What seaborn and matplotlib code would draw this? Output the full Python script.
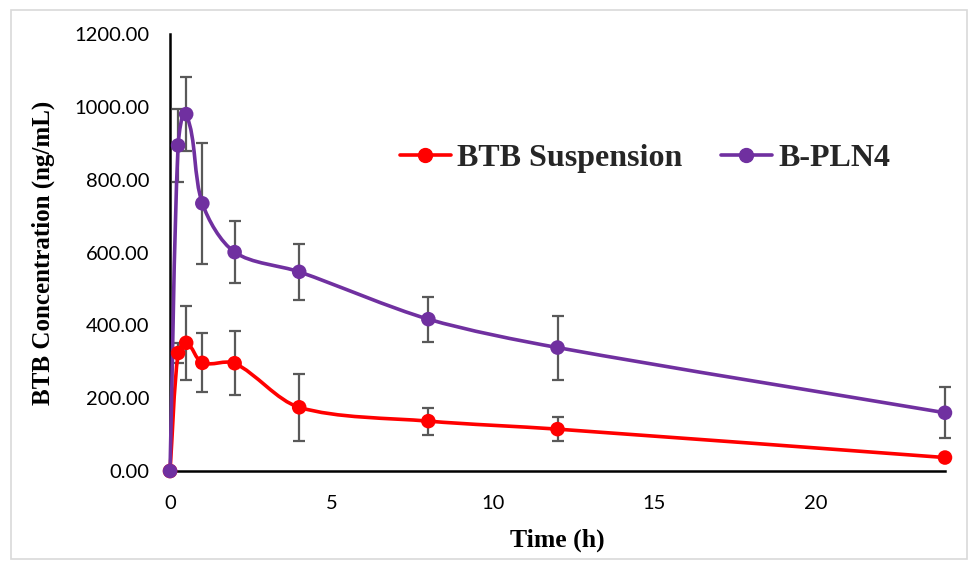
import numpy as np
import matplotlib
matplotlib.use("Agg")
import matplotlib.pyplot as plt
import seaborn as sns
from matplotlib.path import Path
from matplotlib.patches import PathPatch, Rectangle
from matplotlib.lines import Line2D
from matplotlib.ticker import FuncFormatter

sns.set_theme(style="white")

# data
time_h = [0, 0.25, 0.5, 1, 2, 4, 8, 12, 24]
susp = [0, 324, 352, 297, 296, 175, 137, 115, 37]
susp_sd = [0, 27, 102, 81, 88, 92, 37, 32, 0]
pln4 = [0, 894, 980, 735, 601, 547, 417, 339, 160]
pln4_sd = [0, 100, 102, 166, 85, 77, 62, 88, 70]

RED = "#FF0000"
PURPLE = "#7030A0"
GREY = "#595959"


def smooth_path(ax, x, y, tension=0.3):
    # Excel-like smoothed line, built in screen space then mapped back to data
    pts = ax.transData.transform(np.column_stack([x, y]).astype(float))
    n = len(pts)
    verts = [pts[0]]
    codes = [Path.MOVETO]
    for i in range(n - 1):
        p0 = pts[max(i - 1, 0)]
        p1 = pts[i]
        p2 = pts[i + 1]
        p3 = pts[min(i + 2, n - 1)]
        chord = np.linalg.norm(p2 - p1)
        t1 = p2 - p0
        t2 = p3 - p1
        c1 = p1 + t1 / np.linalg.norm(t1) * chord * tension
        c2 = p2 - t2 / np.linalg.norm(t2) * chord * tension
        verts += [c1, c2, p2]
        codes += [Path.CURVE4] * 3
    verts = ax.transData.inverted().transform(np.array(verts))
    return Path(verts, codes)


fig = plt.figure(figsize=(9.7, 5.61), dpi=100)
ax = fig.add_axes([0.1753, 0.1604, 0.7989, 0.779])
ax.set_xlim(0, 24)
ax.set_ylim(0, 1200)

# light grey outer border
fig.patches.append(Rectangle((0.011, 0.004), 0.986, 0.978, transform=fig.transFigure,
                             fill=False, edgecolor="#d9d9d9", linewidth=1.2))

for y, sd, col in [(susp, susp_sd, RED), (pln4, pln4_sd, PURPLE)]:
    ax.errorbar(time_h, y, yerr=sd, fmt="none", ecolor=GREY, elinewidth=1.6,
                capsize=4.3, capthick=1.6, zorder=2, clip_on=False)
    ax.add_patch(PathPatch(smooth_path(ax, time_h, y), facecolor="none", edgecolor=col,
                           linewidth=2.6, zorder=3, clip_on=False))
    sns.scatterplot(x=time_h, y=y, ax=ax, color=col, s=110, edgecolor="none",
                    zorder=4, clip_on=False, legend=False)

ax.set_xlim(0, 24)
ax.set_ylim(0, 1200)
ax.set_xticks([0, 5, 10, 15, 20])
ax.set_yticks(np.arange(0, 1201, 200))
ax.yaxis.set_major_formatter(FuncFormatter(lambda v, p: f"{v:.2f}"))

for s in ["top", "right"]:
    ax.spines[s].set_visible(False)
for s in ["left", "bottom"]:
    ax.spines[s].set_color("black")
    ax.spines[s].set_linewidth(1.8)

ax.tick_params(axis="y", length=0, pad=15, labelsize=14.5, labelcolor="black")
ax.tick_params(axis="x", length=0, pad=17, labelsize=14.5, labelcolor="black")
for t in ax.get_xticklabels() + ax.get_yticklabels():
    t.set_family("Lato")

ax.set_xlabel("Time (h)", family="Liberation Serif", fontweight="bold", fontsize=18.5,
              color="black", labelpad=12)
ax.set_ylabel("BTB Concentration (ng/mL)", family="Liberation Serif", fontweight="bold",
              fontsize=18, color="black", labelpad=14)

handles = [Line2D([], [], color=RED, lw=2.6, marker="o", markersize=10),
           Line2D([], [], color=PURPLE, lw=2.6, marker="o", markersize=10)]
ax.legend(handles, ["BTB Suspension", "B-PLN4"], loc="center", ncol=2,
          bbox_to_anchor=(0.665, 0.717), bbox_transform=fig.transFigure, frameon=False,
          prop={"family": "Liberation Serif", "weight": "bold", "size": 23},
          handlelength=1.6, handletextpad=0.2, columnspacing=1.2)

fig.savefig("out.png", dpi=100)
